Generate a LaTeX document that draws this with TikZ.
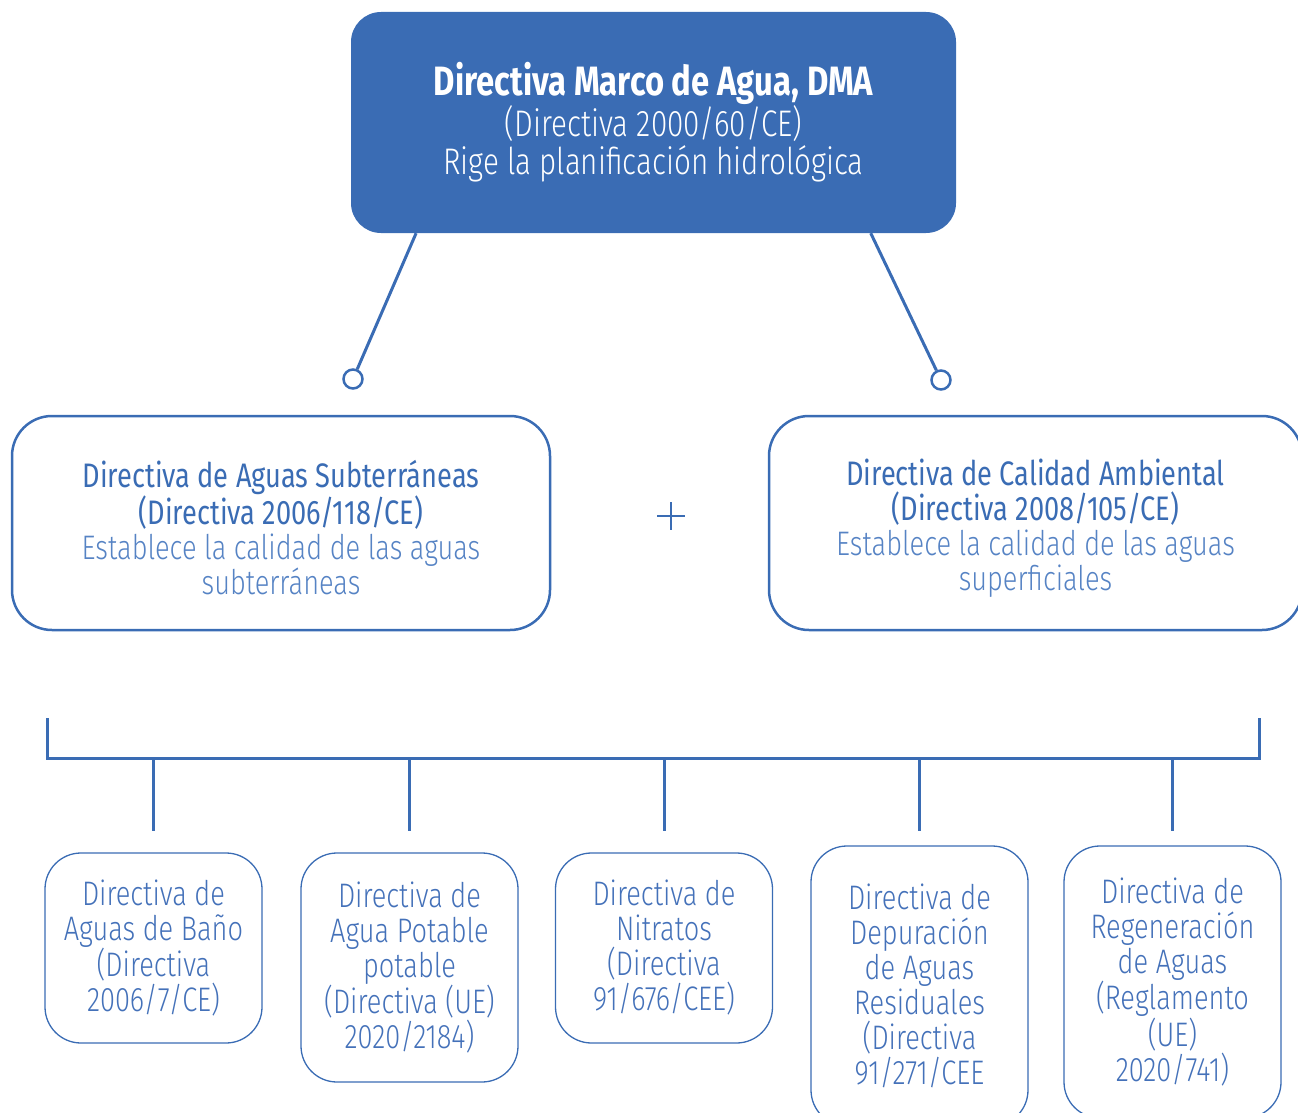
\documentclass[tikz,border=0pt]{standalone}
\usepackage{fontspec}
\setmainfont{Fira Sans}[UprightFont={* Light},BoldFont={* Bold},FakeStretch=0.80]
\newfontfamily\regfont{Fira Sans}[FakeStretch=0.80]
\usepackage{tikz}
\usetikzlibrary{positioning}
\definecolor{azul}{HTML}{3A6CB4}
\definecolor{azulclaro}{HTML}{5683C4}
\definecolor{azultexto}{HTML}{4471B9}

\begin{document}
\begin{tikzpicture}[x=1pt,y=-1pt,
    marco/.style={rounded corners=30pt,fill=azul,text=white,align=center,
      minimum width=605pt,minimum height=221pt,font=\fontsize{37}{38}\selectfont},
    grande/.style={draw=azul,line width=2.5pt,rounded corners=40pt,align=center,
      text=azulclaro,minimum height=214pt,font=\fontsize{34}{35}\selectfont},
    chica/.style={draw=azul,line width=1.3pt,rounded corners=36pt,align=center,
      text=azultexto,minimum width=217pt,font=\fontsize{34}{35}\selectfont},
    enlace/.style={draw=azul,line width=3pt},
    anillo/.style={circle,draw=azul,line width=2.5pt,inner sep=0pt,minimum size=19pt},
    cruz/.style={minimum size=28pt,inner sep=0pt,path picture={
      \draw[azul,line width=2.5pt] (path picture bounding box.north) -- (path picture bounding box.south)
        (path picture bounding box.west) -- (path picture bounding box.east);}}]
  \useasboundingbox (0,0) rectangle (1298,1113);

  \node[marco] (dma) at (653.5,122.5)
    {{\fontsize{41}{38}\selectfont\bfseries Directiva Marco de Agua, DMA}\\(Directiva 2000/60/CE)\\Rige la planificación hidrológica};

  \node[anillo] (anilloI) at (353,379) {};
  \node[anillo] (anilloD) at (941,380) {};
  \draw[enlace] (dma.205) -- (anilloI);
  \draw[enlace] (dma.-27) -- (anilloD);

  \node[grande,minimum width=538pt] (subterraneas) at (281,523)
    {{\regfont\color{azul}\rule{0pt}{36pt}Directiva de Aguas Subterráneas}\\{\regfont\color{azul}(Directiva 2006/118/CE)}\\Establece la calidad de las aguas\\subterráneas};
  \node[grande,minimum width=533pt] (ambiental) at (1035.5,523)
    {{\regfont\color{azul}\rule{0pt}{36pt}Directiva de Calidad Ambiental}\\{\regfont\color{azul}(Directiva 2008/105/CE)}\\Establece la calidad de las aguas\\superficiales};
  \node[cruz] (mas) at (671,516) {};

  \node[chica,minimum height=190pt] (bano) at (153.5,948)
    {Directiva de\\Aguas de Baño\\(Directiva\\2006/7/CE)};
  \node[chica,minimum height=229pt] (potable) at (409.5,967.5)
    {Directiva de\\Agua Potable\\potable\\(Directiva (UE)\\2020/2184)};
  \node[chica,minimum height=190pt] (nitratos) at (664,948)
    {Directiva de\\Nitratos\\(Directiva\\91/676/CEE)};
  \node[chica,minimum height=280pt] (depuracion) at (919.5,986)
    {Directiva de\\Depuración\\de Aguas\\Residuales\\(Directiva\\91/271/CEE};
  \node[chica,minimum height=272pt] (regeneracion) at (1172.5,982)
    {Directiva de\\Regeneración\\de Aguas\\(Reglamento\\(UE)\\2020/741)};

  \coordinate (esqI) at (47,718);
  \coordinate (esqD) at (1259,718);
  \coordinate (barraI) at (47,758);
  \coordinate (barraD) at (1259,758);
  \draw[enlace] (esqI) -- (barraI) -- (barraD) -- (esqD);
  \draw[enlace,shorten >=21pt] (bano.north |- barraI) -- (bano);
  \draw[enlace,shorten >=21pt] (potable.north |- barraI) -- (potable);
  \draw[enlace,shorten >=21pt] (nitratos.north |- barraI) -- (nitratos);
  \draw[enlace,shorten >=14pt] (depuracion.north |- barraI) -- (depuracion);
  \draw[enlace,shorten >=14pt] (regeneracion.north |- barraI) -- (regeneracion);
\end{tikzpicture}
\end{document}
